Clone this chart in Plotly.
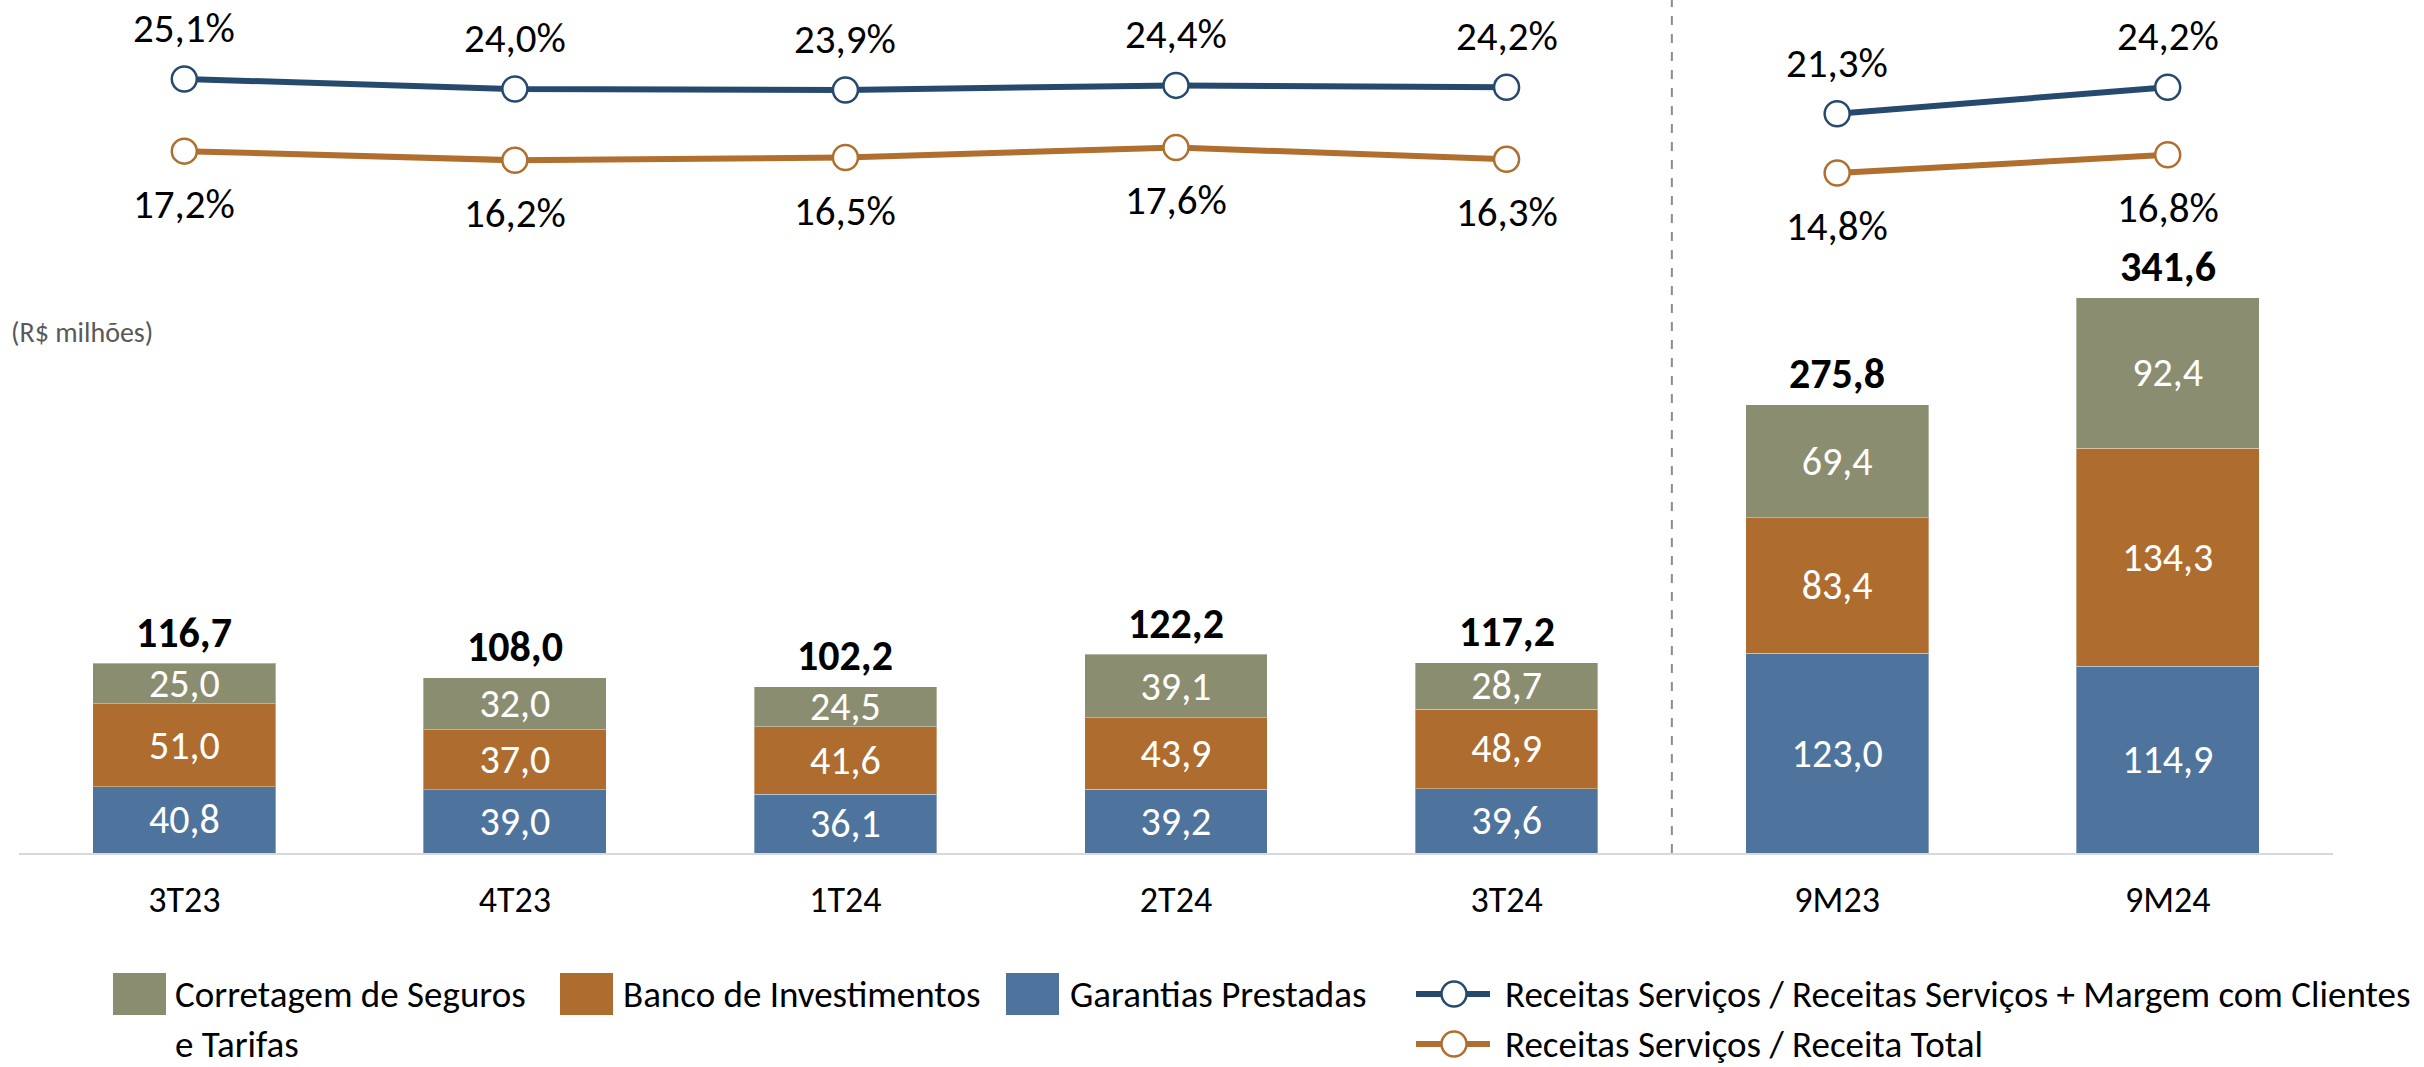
import plotly.graph_objects as go

# dados (R$ milhões)
periodos = ["3T23", "4T23", "1T24", "2T24", "3T24", "9M23", "9M24"]
garantias = [40.8, 39.0, 36.1, 39.2, 39.6, 123.0, 114.9]
banco_inv = [51.0, 37.0, 41.6, 43.9, 48.9, 83.4, 134.3]
corretagem = [25.0, 32.0, 24.5, 39.1, 28.7, 69.4, 92.4]
totais = [116.7, 108.0, 102.2, 122.2, 117.2, 275.8, 341.6]

# índices (%)
serv_clientes = [25.1, 24.0, 23.9, 24.4, 24.2, 21.3, 24.2]
serv_total = [17.2, 16.2, 16.5, 17.6, 16.3, 14.8, 16.8]

FONT = "Carlito, Calibri, Lato, sans-serif"
AZUL, LARANJA, VERDE = "#4E749D", "#AE6D2F", "#8B8D71"
AZUL_LINHA, LARANJA_LINHA = "#264A6E", "#B06F2E"

W, H = 2424, 1067
ML, MT = 19, 0
PW = 2333 - ML
PH = 853 - MT
MR = W - ML - PW
MB = H - MT - PH


def px(x):
    # x em pixels -> paper
    return (x - ML) / PW


def py(y):
    # y em pixels (a partir do topo) -> paper
    return (MT + PH - y) / PH


def fmt(v, suf=""):
    return f"{v:.1f}{suf}".replace(".", ",")


fig = go.Figure()

barras = [
    ("Garantias Prestadas", garantias, AZUL),
    ("Banco de Investimentos", banco_inv, LARANJA),
    ("Corretagem de Seguros e Tarifas", corretagem, VERDE),
]
for nome, vals, cor in barras:
    fig.add_trace(go.Bar(
        x=periodos, y=vals, name=nome,
        marker=dict(color=cor, line=dict(width=1, color="rgba(255,255,255,0.35)")),
        width=0.553,
        texttemplate="%{y:.1f}", textposition="inside",
        insidetextanchor="middle", constraintext="none",
        textfont=dict(color="white", size=40, family=FONT),
        showlegend=False, hoverinfo="skip",
    ))

# totais em negrito
for p, t in zip(periodos, totais):
    fig.add_annotation(x=p, y=t, yref="y", text=f"<b>{fmt(t)}</b>",
                       showarrow=False, yanchor="middle", yshift=31, borderpad=0,
                       font=dict(size=42, color="black", family=FONT))

# linhas de índice (trimestres e acumulado separados)
linhas = [
    (serv_clientes, AZUL_LINHA, 51),
    (serv_total, LARANJA_LINHA, -53),
]
for vals, cor, desloc in linhas:
    for s in (slice(0, 5), slice(5, 7)):
        fig.add_trace(go.Scatter(
            x=periodos[s], y=vals[s], yaxis="y2", mode="lines+markers",
            line=dict(color=cor, width=6),
            marker=dict(size=25, color="white", line=dict(color=cor, width=2.5)),
            showlegend=False, hoverinfo="skip",
        ))
    for p, v in zip(periodos, vals):
        fig.add_annotation(x=p, y=v, yref="y2", text=fmt(v, "%"),
                           showarrow=False, yshift=desloc, borderpad=0,
                           font=dict(size=41, color="black", family=FONT))

# separador tracejado
fig.add_shape(type="line", xref="x", x0=4.5, x1=4.5, yref="paper", y0=0, y1=1,
              line=dict(color="#8C8C8C", width=2, dash="dash"))

fig.add_annotation(xref="paper", yref="paper", x=px(10), y=py(332),
                   xanchor="left", text="(R$ milhões)", showarrow=False, borderpad=0,
                   font=dict(size=28, color="#595959", family=FONT))

# legenda manual
leg_y1, leg_y2 = 994, 1044
quadros = [
    (113, 174, VERDE, ["Corretagem de Seguros", "e Tarifas"]),
    (560, 622, LARANJA, ["Banco de Investimentos"]),
    (1006, 1069, AZUL, ["Garantias Prestadas"]),
]
for x0, xt, cor, textos in quadros:
    fig.add_shape(type="rect", xref="paper", yref="paper",
                  x0=px(x0), x1=px(x0 + 53), y0=py(leg_y1 + 21), y1=py(leg_y1 - 21),
                  fillcolor=cor, line=dict(width=0))
    for i, txt in enumerate(textos):
        fig.add_annotation(xref="paper", yref="paper", x=px(xt),
                           y=py(leg_y1 + i * (leg_y2 - leg_y1)),
                           xanchor="left", yanchor="middle", text=txt,
                           showarrow=False, borderpad=0,
                           font=dict(size=37, color="black", family=FONT))

itens_linha = [
    (leg_y1, AZUL_LINHA, "Receitas Serviços / Receitas Serviços + Margem com Clientes"),
    (leg_y2, LARANJA_LINHA, "Receitas Serviços / Receita Total"),
]
for yy, cor, txt in itens_linha:
    fig.add_shape(type="line", xref="paper", yref="paper",
                  x0=px(1416), x1=px(1490), y0=py(yy), y1=py(yy),
                  line=dict(color=cor, width=6))
    fig.add_shape(type="circle", xref="paper", yref="paper",
                  x0=px(1441.5), x1=px(1466.5), y0=py(yy + 12.5), y1=py(yy - 12.5),
                  fillcolor="white", line=dict(color=cor, width=2.5))
    fig.add_annotation(xref="paper", yref="paper", x=px(1504), y=py(yy),
                       xanchor="left", yanchor="middle", text=txt, showarrow=False,
                       borderpad=0,
                       font=dict(size=37, color="black", family=FONT))

fig.update_layout(
    width=W, height=H,
    margin=dict(l=ML, r=MR, t=MT, b=MB),
    barmode="stack",
    separators=",.",
    paper_bgcolor="white", plot_bgcolor="white",
    font=dict(family=FONT, color="black"),
    showlegend=False,
    xaxis=dict(type="category", range=[-0.5, 6.5], showline=True,
               linecolor="#D9D9D9", linewidth=2, showgrid=False, ticks="",
               tickfont=dict(size=36, color="black", family=FONT),
               ticklabelstandoff=14),
    yaxis=dict(range=[0, PH / 1.625], visible=False, showgrid=False, zeroline=False),
    yaxis2=dict(range=[25.1 - 774 / 9.13, 25.1 + 79 / 9.13], overlaying="y",
                visible=False, showgrid=False, zeroline=False),
)

# sem a margem padrão do body, a figura ocupa a janela inteira
fig.write_html("out.html", config={"displayModeBar": False},
               post_script="document.body.style.margin='0';")
